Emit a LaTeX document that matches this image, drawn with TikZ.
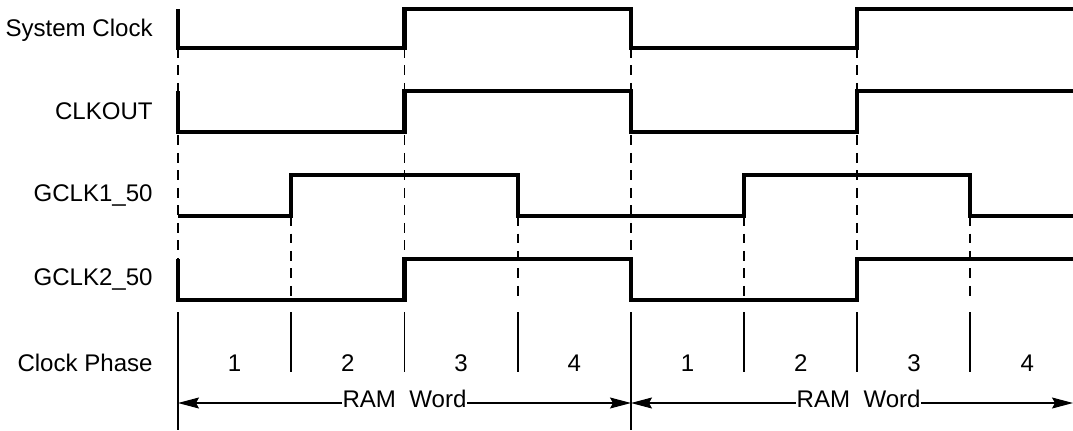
\documentclass[tikz,border=0pt]{standalone}
\usepackage{fontspec}
\setmainfont{Liberation Sans}
\usetikzlibrary{arrows.meta,calc}
\newcommand{\tdfont}{\fontsize{13.7}{15}\selectfont}
\tikzset{
  sig/.style={line width=2.3pt, line join=miter},
  guide/.style={line width=0.65pt, dash pattern=on 0.2cm off 0.15cm},
  tick/.style={line width=0.65pt},
  lbl/.style={anchor=east, inner sep=0pt, font=\tdfont},
  num/.style={inner sep=0pt, font=\tdfont},
  span/.style={{Stealth[length=0.42cm,width=0.22cm,inset=0.06cm]}-{Stealth[length=0.42cm,width=0.22cm,inset=0.06cm]}, line width=0.65pt},
  wordlbl/.style={fill=white, inner xsep=0.5pt, inner ysep=0pt, font=\tdfont, yshift=0.08cm},
}
\begin{document}
\begin{tikzpicture}[x=0.02cm, y=-0.02cm]
    \useasboundingbox (0,0) rectangle (1073,430);
    % signal names
    \node[lbl] (sysclk) at (153,30) {System Clock};
    \node[lbl] (clkout) at (153,111) {CLKOUT};
    \node[lbl] (gclka) at (153,195) {GCLK1\_50};
    \node[lbl] (gclkb) at (153,279) {GCLK2\_50};
    \node[lbl] (phase) at (153,363) {Clock Phase};
    % dashed guides
    \foreach \x in {178,404.5,631,857} \draw[guide] (\x,48) -- (\x,300);
    \foreach \x in {291,518,744,970} \draw[guide] (\x,216) -- (\x,300);
    % waveforms
    \draw[sig] (178,9) -- (178,48) -- (404.5,48) -- (404.5,9) -- (631,9) -- (631,48) -- (857,48) -- (857,9) -- (1073,9);
    \draw[sig] (178,91) -- (178,132) -- (404.5,132) -- (404.5,91) -- (631,91) -- (631,132) -- (857,132) -- (857,91) -- (1073,91);
    \draw[sig] (178,216) -- (291,216) -- (291,175) -- (518,175) -- (518,216) -- (744,216) -- (744,175) -- (970,175) -- (970,216) -- (1073,216);
    \draw[sig] (178,259) -- (178,300) -- (404.5,300) -- (404.5,259) -- (631,259) -- (631,300) -- (857,300) -- (857,259) -- (1073,259);
    % clock phases
    \foreach \x in {291,404.5,518,744,857,970} \draw[tick] (\x,312) -- (\x,372);
    \foreach \x in {178,631} \draw[tick] (\x,312) -- (\x,430);
    \foreach \n [count=\k from 0] in {1,2,3,4,1,2,3,4}
        \node[num] (ph\k) at (234.6+113.25*\k,363) {\n};
    % RAM words
    \coordinate (w0) at (178,403);
    \coordinate (w1) at (631,403);
    \coordinate (w2) at (1073,403);
    \draw[span] (w0) -- node[wordlbl] (ram1) {RAM\ \ Word} (w1);
    \draw[span] (w1) -- node[wordlbl, pos=0.515] (ram2) {RAM\ \ Word} (w2);
\end{tikzpicture}
\end{document}
